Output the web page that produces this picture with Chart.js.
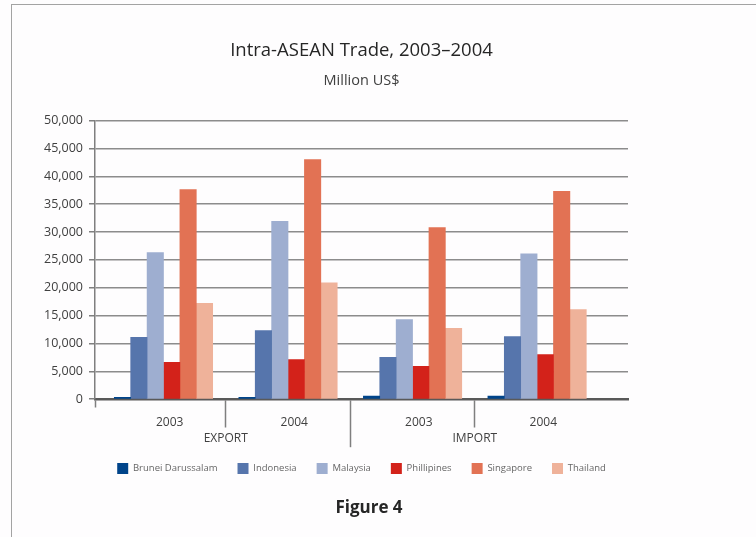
<!DOCTYPE html>
<html>
<head>
<meta charset="utf-8">
<title>Intra-ASEAN Trade, 2003–2004</title>
<script src="https://cdn.jsdelivr.net/npm/chart.js@4.4.1/dist/chart.umd.min.js"></script>
<style>
  html, body { margin: 0; padding: 0; background: #fefdfe; }
  #wrap { position: relative; width: 756px; height: 537px; overflow: hidden; }
  #frame {
    position: absolute; left: 11px; top: 4px; right: -2px; bottom: -2px;
    border-left: 1px solid #a3a3a3; border-top: 1px solid #a3a3a3;
  }
  #chart-box { position: absolute; left: 0; top: 0; width: 756px; height: 537px; }
  #caption {
    position: absolute; left: 269px; top: 497px; width: 200px;
    text-align: center; font: bold 17px "Open Sans", sans-serif;
    line-height: 20px; color: #262626;
  }
</style>
</head>
<body>
<div id="wrap">
  <div id="frame"></div>
  <div id="chart-box"><canvas id="tradeChart"></canvas></div>
  <div id="caption">Figure 4</div>
</div>
<script>
// ---------------- DATA ----------------
const groups = ["EXPORT", "IMPORT"];
const years = ["2003", "2004", "2003", "2004"];
const countries = ["Brunei Darussalam", "Indonesia", "Malaysia", "Phillipines", "Singapore", "Thailand"];

const brunei      = [340, 330, 550, 560];
const indonesia   = [11100, 12300, 7500, 11250];
const malaysia    = [26300, 31900, 14300, 26100];
const phillipines = [6600, 7100, 5900, 8000];
const singapore   = [37600, 43000, 30800, 37300];
const thailand    = [17200, 20900, 12700, 16100];

const yTicks = { min: 0, max: 50000, step: 5000 };

// ---------------- STYLE ----------------
const colors = ["#00448a", "#5675ac", "#9eaed0", "#d3221a", "#e27254", "#efb29a"];
const series = [brunei, indonesia, malaysia, phillipines, singapore, thailand];

const X_MIN = -0.55;
const X_MAX = 3.73;

Chart.defaults.font.family = "'Open Sans', sans-serif";

// ---------------- X TICKS ----------------
function tickKind(value) {
  if (value === X_MIN) return "stub";
  const frac = value - Math.floor(value);
  if (Math.abs(frac - 0.5) < 1e-6) {
    return Math.round(value - 0.5) % 2 === 0 ? "group" : "split";
  }
  return "year";
}

function buildXTicks(scale) {
  const ticks = [{ value: X_MIN }];
  years.forEach((y, i) => ticks.push({ value: i + 0.05 }));
  groups.forEach((g, gi) => {
    ticks.push({ value: gi * 2 + 0.5 });
    if (gi > 0) ticks.push({ value: gi * 2 - 0.5 });
  });
  ticks.sort((a, b) => a.value - b.value);
  scale.ticks = ticks;
}

function xLabel(value) {
  const kind = tickKind(value);
  if (kind === "year") return years[Math.round(value)];
  if (kind === "group") return ["", groups[Math.round((value - 0.5) / 2)]];
  return "";
}

// ---------------- CHART ----------------
const datasets = countries.map((name, i) => ({
  label: name,
  data: series[i].map((v, j) => ({ x: j, y: v })),
  backgroundColor: colors[i],
  borderWidth: 0,
  barThickness: 16.4,
}));

new Chart(document.getElementById("tradeChart"), {
  type: "bar",
  data: { datasets },
  options: {
    responsive: true,
    maintainAspectRatio: false,
    animation: false,
    layout: { padding: { top: 30, left: 35, right: 128, bottom: 53 } },
    plugins: {
      title: {
        display: true,
        text: "Intra-ASEAN Trade, 2003–2004",
        color: "#262626",
        fullSize: false,
        font: { size: 18.5, weight: "normal" },
        padding: { top: 10, bottom: 4 },
      },
      subtitle: {
        display: true,
        text: "Million US$",
        color: "#404040",
        fullSize: false,
        font: { size: 14.5 },
        padding: { top: 6, bottom: 31 },
      },
      legend: {
        position: "bottom",
        fullSize: false,
        labels: {
          boxWidth: 11,
          boxHeight: 11,
          padding: 20,
          color: "#666666",
          font: { size: 9.5 },
        },
      },
      tooltip: { enabled: false },
    },
    scales: {
      x: {
        type: "linear",
        min: X_MIN,
        max: X_MAX,
        bounds: "data",
        offset: false,
        afterBuildTicks: buildXTicks,
        afterFit: (scale) => { scale.height = 43.8; },
        grid: {
          offset: false,
          drawOnChartArea: false,
          drawTicks: true,
          tickLength: 48,
          tickWidth: 1.5,
          tickColor: (ctx) => tickKind(ctx.tick.value) === "year" ? "rgba(0,0,0,0)" : "#7f7f7f",
          tickBorderDash: (ctx) => {
            const kind = tickKind(ctx.tick.value);
            if (kind === "stub") return [7, 200];
            if (kind === "group") return [27, 200];
            return [];
          },
        },
        border: { display: true, color: "#595959", width: 2.5 },
        ticks: {
          autoSkip: false,
          maxRotation: 0,
          minRotation: 0,
          mirror: true,
          padding: -31.3,
          color: "#404040",
          font: { size: 12, lineHeight: 1.333 },
          callback: xLabel,
        },
      },
      y: {
        type: "linear",
        min: yTicks.min,
        max: yTicks.max,
        afterFit: (scale) => { scale.width = 60; },
        grid: {
          color: "#8c8c8c",
          lineWidth: 1.5,
          tickLength: 6,
          tickColor: "#7f7f7f",
        },
        border: { display: true, color: "#7f7f7f", width: 1.5 },
        ticks: {
          stepSize: yTicks.step,
          padding: 6,
          color: "#404040",
          font: { size: 12.5 },
          callback: (v) => v.toLocaleString("en-US"),
        },
      },
    },
  },
});
</script>
</body>
</html>
